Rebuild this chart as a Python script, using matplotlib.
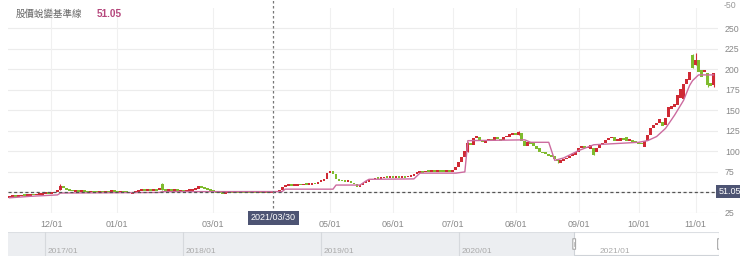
import matplotlib
matplotlib.use("Agg")
import matplotlib.pyplot as plt
from matplotlib.patches import Rectangle, FancyBboxPatch

plt.rcParams['font.family'] = ['Liberation Sans', 'Noto Sans CJK TC', 'DejaVu Sans']

# ---------------- data (daily candles, trading-day index) ----------------
opens = [
    44.5, 45.0, 45.6, 45.2, 46.0, 46.6, 46.3, 47.0, 47.6, 47.2, 48.0, 48.4, 48.8, 49.4, 49.0,
    49.6, 50.5, 53.0, 57.8, 55.5, 53.6, 52.8, 52.0, 52.4, 51.5, 51.8, 51.2, 50.8, 51.5,
    51.0, 50.5, 51.0, 50.8, 51.4, 51.0, 51.6, 51.2, 50.7, 51.3, 50.9, 50.4, 48.2,
    50.4, 51.5, 52.5, 53.2, 52.8, 53.5, 53.0, 53.6, 52.6, 60.0,
    53.0, 52.5, 53.0, 52.4, 52.8, 52.2, 52.6, 52.0, 52.5, 52.9, 53.5,
    54.5, 57.5, 56.0, 54.5, 53.2, 52.0,
    51.0, 50.5, 50.0, 49.6, 49.8, 50.2, 49.9, 50.3, 50.0, 50.4, 50.1, 50.5, 50.2, 50.6, 50.3, 50.7, 50.4, 50.8, 50.5, 51.0,
    51.0, 51.5, 52.5, 57.0, 58.5, 59.0, 58.6, 59.2, 59.8, 59.4, 60.0, 59.6, 60.4, 61.0, 60.6, 62.5, 64.5,
    66.0, 74.0, 75.5, 73.0, 66.0, 65.0, 64.2, 63.5, 64.0, 62.0, 60.0, 57.0, 59.0,
    62.0, 63.5, 65.0, 66.5, 67.5, 67.0, 68.0, 68.6, 68.2, 69.0, 68.5, 69.2, 68.8, 69.5, 69.0, 69.8, 70.5,
    72.0, 74.5, 75.5, 75.0, 76.0, 75.5, 76.2, 75.8, 76.5, 76.0, 75.6, 76.3, 75.9,
    77.0, 81.0, 87.0, 93.0, 99.0, 110.0, 108.0,
    116.0, 118.0, 113.0, 110.0, 113.0, 115.0, 112.0, 117.0, 115.0, 113.5, 117.0, 118.0, 120.0, 122.0, 120.0, 122.0, 112.0, 107.0, 111.0,
    110.0, 106.0, 104.0, 99.0, 98.5, 97.0, 95.0, 94.0, 90.0, 86.0, 89.0, 90.5, 92.0, 94.5, 96.0, 99.0,
    104.0, 106.0, 104.0, 103.0, 104.0, 99.0, 104.0, 107.5, 110.0, 113.5, 116.0, 117.5, 113.0, 112.0, 116.0, 117.0, 113.0,
    114.0, 112.0, 111.0, 110.0, 105.0, 113.0, 120.0, 128.0, 132.0, 134.0, 136.0, 132.0, 142.0, 152.0,
    154.0, 156.0, 165.0, 164.0, 182.0, 187.0, 217.0, 205.0, 211.0, 199.0, 196.0, 195.0, 183.0, 181.0,
]
closes = [
    45.0, 45.5, 45.2, 46.0, 46.5, 46.3, 47.0, 47.5, 47.2, 48.0, 48.4, 48.8, 49.3, 49.0, 49.6,
    50.5, 53.0, 57.5, 55.5, 53.5, 52.8, 52.0, 52.4, 51.5, 51.8, 51.2, 50.8, 51.5, 51.0,
    50.5, 51.0, 50.8, 51.4, 51.0, 51.6, 51.2, 50.7, 51.3, 50.9, 50.4, 49.6, 50.4,
    51.5, 52.5, 53.2, 52.8, 53.5, 53.0, 53.6, 53.2, 55.5, 53.0,
    52.5, 53.0, 52.4, 52.8, 52.2, 52.6, 52.0, 52.5, 52.9, 53.5, 54.5,
    57.5, 56.0, 54.5, 53.2, 52.0, 51.0,
    50.5, 50.0, 49.6, 49.8, 50.2, 49.9, 50.3, 50.0, 50.4, 50.1, 50.5, 50.2, 50.6, 50.3, 50.7, 50.4, 50.8, 50.5, 51.0, 51.05,
    51.5, 52.5, 56.5, 58.5, 59.0, 58.6, 59.2, 59.8, 59.4, 60.0, 59.6, 60.4, 61.0, 60.6, 62.5, 64.5, 66.0,
    74.0, 75.5, 73.0, 66.0, 65.0, 64.2, 63.5, 64.0, 62.0, 60.0, 57.0, 59.0, 62.0,
    63.5, 65.0, 66.5, 67.5, 67.0, 68.0, 68.6, 68.2, 69.0, 68.5, 69.2, 68.8, 69.5, 69.0, 69.8, 70.5, 72.0,
    74.5, 75.5, 75.0, 76.0, 75.5, 76.2, 75.8, 76.5, 76.0, 75.6, 76.3, 75.9, 77.0,
    81.0, 87.0, 93.0, 100.0, 110.0, 108.0, 116.0,
    118.0, 113.0, 111.0, 113.0, 115.0, 114.0, 117.0, 115.0, 113.5, 117.0, 119.0, 121.5, 122.0, 121.0, 123.0, 112.0, 107.0, 111.0, 110.0,
    106.0, 103.0, 99.0, 98.0, 97.0, 95.0, 93.5, 91.0, 88.0, 89.0, 90.5, 92.0, 94.5, 96.0, 99.0, 104.0,
    106.0, 104.0, 105.5, 108.0, 96.0, 104.0, 107.5, 110.0, 113.5, 116.0, 117.5, 113.0, 114.5, 116.0, 114.0, 113.0, 115.0,
    112.0, 111.0, 110.0, 109.0, 113.0, 120.0, 128.0, 132.0, 135.0, 139.0, 131.0, 140.0, 154.0, 155.0,
    158.0, 168.0, 176.0, 182.0, 188.0, 197.0, 201.0, 211.0, 196.0, 190.0, 199.0, 181.0, 180.0, 195.0,
]
wick_high = {17: 60.0, 51: 61.0, 229: 220.0, 228: 218.0, 153: 111.0, 170: 125.0}
wick_low = {233: 178.0, 235: 178.0, 183: 86.0, 195: 95.0}

# baseline ("股價蛻變基準線") vertices: trading-day index, value
base_idx = [0, 7, 16, 17, 50, 51, 88, 91, 92, 108, 109, 117, 119, 120, 135, 137, 149, 152, 153,
            172, 174, 180, 182, 185, 190, 195, 210, 213, 216, 219, 222, 225, 227, 228, 230, 235]
base_val = [43.5, 45.3, 47.0, 49.3, 50.0, 51.0, 51.05, 51.05, 54.0, 54.0, 59.0, 59.0, 64.0, 66.0, 66.5, 73.5, 73.5, 75.0, 113.0,
            114.0, 111.0, 111.0, 89.0, 92.0, 101.0, 108.0, 111.0, 113.0, 118.0, 128.0, 144.0, 162.0, 180.0, 186.0, 193.0, 193.0]

xtick_idx = [14, 36, 68, 107, 128, 148, 169, 190, 210, 229]
xtick_labels = ['12/01', '01/01', '03/01', '05/01', '06/01', '07/01', '08/01', '09/01', '10/01', '11/01']
ytick_vals = [25, 50, 75, 100, 125, 150, 175, 200, 225, 250]
ytick_labels = ['25', '', '75', '100', '125', '150', '175', '200', '225', '250']

cursor_idx = 88
cursor_label = '2021/03/30'
cursor_value = 51.05
legend_name = '股價蛻變基準線'

slider_years = [2017, 2018, 2019, 2020, 2021]
slider_labels = ['2017/01', '2018/01', '2019/01', '2020/01', '2021/01']
slider_range = (2016.73, 2021.885)
slider_window = (2020.835, 2021.885)

# ---------------- figure ----------------
W, H = 740, 261
fig = plt.figure(figsize=(W / 100, H / 100), dpi=100)
ax = fig.add_axes([8 / W, 48 / H, 710 / W, 205.5 / H])
N = len(closes)
ax.set_xlim(-0.5, 236.5)
ax.set_ylim(25, 275)

RED = '#cf2a35'
GREEN = '#7fbb2e'
PINK = '#cc6b9f'

for y in ytick_vals:
    ax.axhline(y, color='#ececec', lw=0.8, zorder=0)
for xi in xtick_idx:
    ax.axvline(xi, color='#f0f0f0', lw=0.8, zorder=0)

for i in range(N):
    o, c = opens[i], closes[i]
    col = RED if c >= o else GREEN
    lo, hi = min(o, c), max(o, c)
    if i in wick_high or i in wick_low:
        ax.vlines(i, wick_low.get(i, lo), wick_high.get(i, hi), color=col, lw=0.8, zorder=2)
    h = max(hi - lo, 2.2)
    mid = (hi + lo) / 2
    ax.bar(i, h, bottom=mid - h / 2, width=0.95, color=col, lw=0, zorder=3)

ax.plot(base_idx, base_val, color=PINK, lw=1.0, zorder=4)

ax.axhline(cursor_value, color='#555555', lw=0.9, ls=(0, (2.5, 2)), zorder=5)
ax.axvline(cursor_idx, ymin=-0.05, ymax=1.04, color='#777777', lw=0.9, ls=(0, (2, 2)), zorder=5, clip_on=False)

for s in ax.spines.values():
    s.set_visible(False)
ax.set_xticks(xtick_idx)
ax.set_xticklabels(xtick_labels)
ax.set_yticks(ytick_vals)
ax.set_yticklabels(ytick_labels)
ax.tick_params(axis='x', length=0, pad=5, labelsize=6.5, labelcolor='#888888')
ax.tick_params(axis='y', length=0, pad=5, labelsize=6.3, labelcolor='#888888',
               labelright=True, labelleft=False)

# header
fig.text(16 / W, 1 - 14 / H, legend_name, fontsize=6.8, color='#666666', va='center', ha='left')
fig.text(97 / W, 1 - 14 / H, f'{cursor_value:.2f}', fontsize=7.2, color='#b5467c', va='center', ha='left',
         fontweight='bold')
fig.text(724 / W, 1 - 5 / H, '-50', fontsize=6.3, color='#999999', va='center', ha='left')

# cursor labels
fig.text(729.5 / W, 1 - 191.6 / H, f'{cursor_value:.2f}', fontsize=6.5, color='white', va='center', ha='center',
         bbox=dict(boxstyle='square,pad=0.25', fc='#4d5473', ec='none'), zorder=10)
fig.text(273.5 / W, 1 - 218 / H, cursor_label, fontsize=6.5, color='white', va='center', ha='center',
         bbox=dict(boxstyle='square,pad=0.3', fc='#4d5473', ec='none'), zorder=10)

# ---------------- data-zoom slider ----------------
sax = fig.add_axes([8 / W, 5 / H, 711 / W, 24 / H])
sax.set_xlim(*slider_range)
sax.set_ylim(0, 1)
sax.axis('off')
sax.add_patch(Rectangle((slider_range[0], 0), slider_window[0] - slider_range[0], 1,
                        fc='#eceef1', ec='none', zorder=1))
sax.plot([slider_range[0], slider_range[1]], [1, 1], color='#dcdfe3', lw=0.8, zorder=2)
for yr, lab in zip(slider_years, slider_labels):
    if yr < slider_window[0]:
        sax.plot([yr, yr], [0, 1], color='#d6d9dd', lw=0.8, zorder=2)
    sax.text(yr + 0.02, 0.18, lab, fontsize=6, color='#aaaaaa', ha='left', va='center', zorder=3)
sax.plot([slider_window[0], slider_window[0], slider_window[1], slider_window[1]], [1, 0.03, 0.03, 1],
         color='#cfd3d8', lw=0.8, zorder=3)
hw = 0.02
for xv in slider_window:
    sax.add_patch(FancyBboxPatch((xv - hw / 2, 0.28), hw, 0.44, boxstyle='round,pad=0,rounding_size=0.005',
                                 fc='white', ec='#aaaaaa', lw=0.8, zorder=4, mutation_aspect=1))
    sax.plot([xv, xv], [0.4, 0.6], color='#bbbbbb', lw=0.6, zorder=5)

fig.savefig('out.png', dpi=100)
